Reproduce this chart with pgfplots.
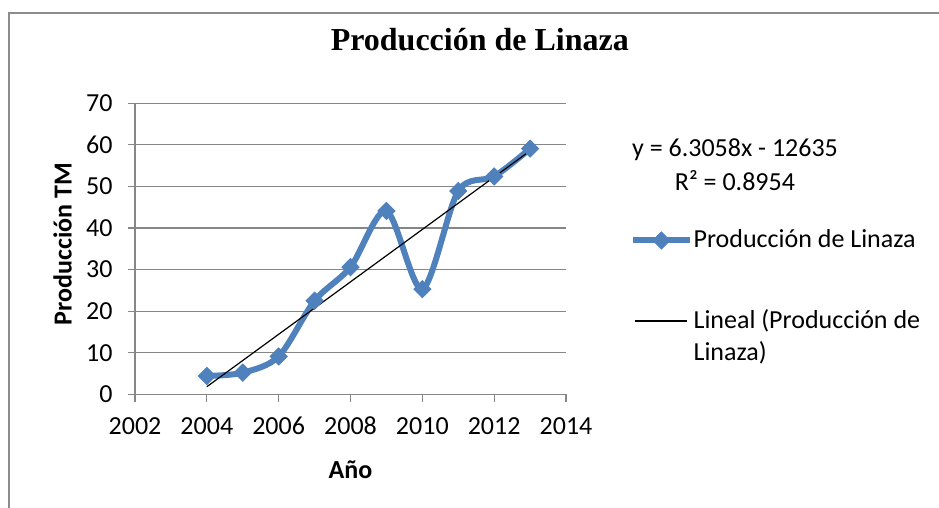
\documentclass[border=0pt]{standalone}
\usepackage{fontspec}
\setmainfont{Carlito}
\newfontfamily\titlefont{Liberation Serif}
\usepackage{pgfplots}
\pgfplotsset{compat=1.18}
\definecolor{serieblue}{RGB}{79,129,189}
\definecolor{gridgray}{RGB}{134,134,134}
\definecolor{framegray}{RGB}{140,140,140}
\pgfplotsset{trendlegend/.style={legend image code/.code={\draw[##1] (1pt,8pt) -- (27pt,8pt);}}}
\begin{document}
\begin{tikzpicture}
\begin{axis}[
  at={(67.5pt,-197.15pt)}, anchor=south west,
  scale only axis, width=215.5pt, height=145.5pt,
  xmin=2002, xmax=2014, ymin=0, ymax=70,
  xtick={2002,2004,...,2014}, ytick={0,10,...,70},
  axis x line*=bottom, axis y line*=left,
  axis line style={gridgray, line width=0.6pt, -},
  tick align=outside, major tick length=3.75pt,
  tick style={gridgray, line width=0.6pt},
  ymajorgrids, grid style={gridgray, line width=0.6pt},
  /pgf/number format/assume math mode=true,
  /pgf/number format/set thousands separator={},
  ticklabel style={font=\fontsize{13}{16}\selectfont},
  xticklabel style={anchor=north, text height=9pt, text depth=0pt, yshift=-3.6pt},
  yticklabel style={xshift=-4pt},
  title={\titlefont\bfseries Producción de Linaza},
  title style={at={(axis description cs:0.800,1.1385)}, anchor=base, font=\fontsize{16}{19}\selectfont},
  xlabel={\bfseries Año},
  xlabel style={at={(axis description cs:0.5,-0.291)}, anchor=base, font=\fontsize{13}{16}\selectfont},
  ylabel={\bfseries Producción TM},
  ylabel style={at={(axis description cs:-0.1469,0.5165)}, anchor=base, font=\fontsize{13}{16}\selectfont},
  legend style={at={(axis description cs:1.1485,0.58)}, anchor=north west, draw=none, fill=none,
    font=\fontsize{13}{16}\selectfont, inner sep=0pt, row sep=25.5pt,
    nodes={inner xsep=0.6pt},
    cells={anchor=west, align=left}},
  legend image code/.code={\draw[mark repeat=2,mark phase=2,#1] plot coordinates {(0pt,0pt) (14pt,0pt) (28pt,0pt)};},
]
\addplot[serieblue, line width=3pt, smooth, mark=square*, mark size=3pt,
  mark options={rotate=45, fill=serieblue, draw=serieblue, line width=0.5pt}]
  coordinates {
  (2004,4.4) (2005,5.2) (2006,9.1) (2007,22.5) (2008,30.6)
  (2009,44.1) (2010,25.3) (2011,48.9) (2012,52.4) (2013,59.1)
  };
\addlegendentry{Producción de Linaza}
\addplot[black, line width=0.6pt, trendlegend]
  coordinates {(2004,1.8232) (2013,58.5754)};
\addlegendentry{Lineal (Producción de\\Linaza)}
\end{axis}
\node[align=center, font=\fontsize{13}{17}\selectfont] at (367.5pt,-82.5pt) {y = 6.3058x - 12635\\R² = 0.8954};
\draw[framegray, line width=0.8pt] (4.5pt,-270pt) -- (4.5pt,-6.5pt) -- (480pt,-6.5pt);
\pgfresetboundingbox
\useasboundingbox (0,0) rectangle (469.5pt,-254pt);
\end{tikzpicture}
\end{document}
